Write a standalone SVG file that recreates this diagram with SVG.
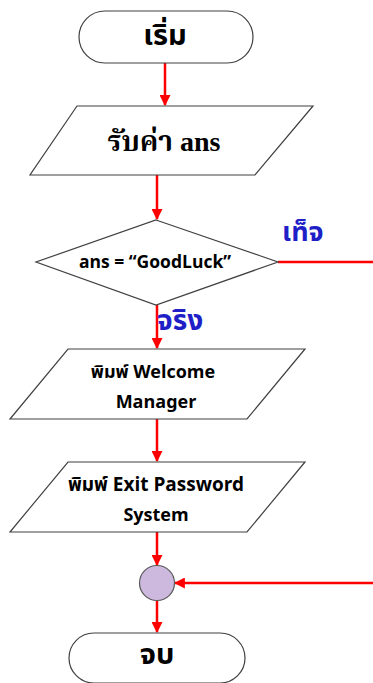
<svg xmlns="http://www.w3.org/2000/svg" width="373" height="683" viewBox="0 0 373 683">
  <defs>
    <marker id="arrow" viewBox="0 0 10 10" refX="9" refY="5" markerWidth="4.4" markerHeight="4.4" markerUnits="strokeWidth" orient="auto">
      <path d="M0,0 L10,5 L0,10 z" fill="#ff0000"/>
    </marker>
    <style>
      .shape { fill: #ffffff; stroke: #404040; stroke-width: 1.2; }
      .conn { stroke: #ff0000; stroke-width: 2.5; fill: none; }
      .th { font-family: "Noto Sans Thai", "Noto Sans", "DejaVu Sans", sans-serif; font-weight: bold; fill: #000000; text-anchor: middle; }
      .serif { font-family: "Liberation Serif", "Noto Serif Thai", "Noto Sans Thai", serif; font-weight: bold; fill: #000000; text-anchor: middle; }
      .lbl { font-family: "Noto Sans Thai", "Noto Sans", "DejaVu Sans", sans-serif; font-weight: bold; fill: #1f1fc8; }
    </style>
  </defs>

  <!-- connectors -->
  <g id="connectors">
    <line class="conn" x1="165" y1="63" x2="165" y2="105" marker-end="url(#arrow)"/>
    <line class="conn" x1="157" y1="175" x2="157" y2="219" marker-end="url(#arrow)"/>
    <line class="conn" x1="278" y1="262" x2="373" y2="262"/>
    <line class="conn" x1="157" y1="305" x2="157" y2="348" marker-end="url(#arrow)"/>
    <line class="conn" x1="157" y1="419" x2="157" y2="461" marker-end="url(#arrow)"/>
    <line class="conn" x1="157" y1="532" x2="157" y2="565" marker-end="url(#arrow)"/>
    <line class="conn" x1="373" y1="583" x2="175" y2="583" marker-end="url(#arrow)"/>
    <line class="conn" x1="157" y1="601" x2="157" y2="632" marker-end="url(#arrow)"/>
    <text class="lbl" x="282" y="241" font-size="27">เท็จ</text>
    <text class="lbl" x="157" y="330" font-size="28">จริง</text>
  </g>

  <!-- start terminator -->
  <g id="start">
    <rect class="shape" x="79" y="11" width="174" height="52" rx="26" ry="26"/>
    <text class="th" x="165" y="45" font-size="29">เริ่ม</text>
  </g>

  <!-- input ans -->
  <g id="input">
    <polygon class="shape" points="77,106 313,106 255,175 30,175"/>
    <text class="serif" x="164" y="151" font-size="28">รับค่า ans</text>
  </g>

  <!-- decision -->
  <g id="decision">
    <polygon class="shape" points="156,220 278,262 156,305 36,262"/>
    <text class="th" x="155" y="268" font-size="17.5">ans = “GoodLuck”</text>
  </g>

  <!-- output welcome -->
  <g id="welcome">
    <polygon class="shape" points="68,349 305,349 247,419 10,419"/>
    <text class="th" x="153" y="378" font-size="18">พิมพ์ Welcome</text>
    <text class="th" x="156" y="408" font-size="18">Manager</text>
  </g>

  <!-- output exit -->
  <g id="exit">
    <polygon class="shape" points="68,462 305,462 247,532 10,532"/>
    <text class="th" x="156" y="491" font-size="19">พิมพ์ Exit Password</text>
    <text class="th" x="156" y="521" font-size="18">System</text>
  </g>

  <!-- connector junction -->
  <g id="junction">
    <circle cx="157" cy="583" r="17.5" fill="#cdb8de" stroke="#5a5a5a" stroke-width="1.2"/>
  </g>

  <!-- end terminator -->
  <g id="end">
    <rect class="shape" x="69" y="633" width="176" height="50" rx="25" ry="25"/>
    <text class="th" x="157" y="664" font-size="29">จบ</text>
  </g>
</svg>
